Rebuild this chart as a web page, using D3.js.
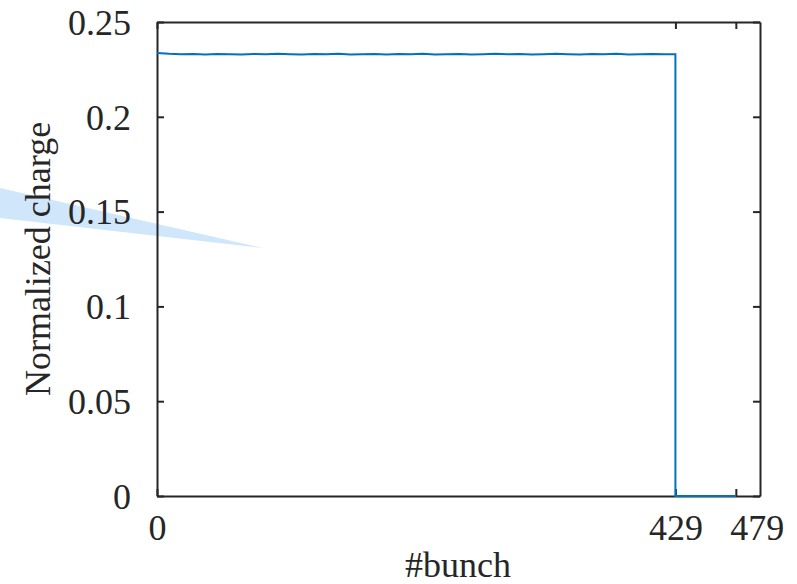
<!DOCTYPE html>
<html>
<head>
<meta charset="utf-8">
<script src="https://cdn.jsdelivr.net/npm/d3@7"></script>
<style>
  html, body { margin: 0; padding: 0; background: #fff; }
  svg { display: block; }
  text { font-family: "Liberation Serif", "Times New Roman", serif; fill: #262626; }
</style>
</head>
<body>
<svg id="chart" width="797" height="584"></svg>
<script>
// ---- data ----
const bunchIndex = [0,10,20,30,40,50,60,70,80,90,100,110,120,130,140,150,160,170,180,190,200,
  210,220,230,240,250,260,270,280,290,300,310,320,330,340,350,360,370,380,390,400,410,420,429];
const chargeValues = [0.2336,0.2332,0.2330,0.2331,0.2329,0.2331,0.2330,0.2328,0.2331,0.2330,0.2332,
  0.2330,0.2329,0.2331,0.2330,0.2332,0.2329,0.2330,0.2331,0.2329,0.2331,
  0.2330,0.2333,0.2329,0.2330,0.2331,0.2328,0.2330,0.2332,0.2330,0.2331,
  0.2329,0.2330,0.2332,0.2330,0.2329,0.2331,0.2330,0.2332,0.2329,0.2330,0.2331,0.2330,0.2330];
const emptyBunches = [429, 479];
const emptyValues = [0, 0];
const xTicks = [0, 429, 479];
const yTicks = [0, 0.05, 0.1, 0.15, 0.2, 0.25];
const xLabel = "#bunch";
const yLabel = "Normalized charge";

const svg = d3.select("#chart");
const x = d3.scaleLinear().domain([0, 499]).range([157, 760]);
const y = d3.scaleLinear().domain([0, 0.25]).range([496, 22]);
const axisColor = "#262626";
const lineColor = "#0072BD";

// decorative light-blue wedge (behind everything)
svg.append("polygon")
  .attr("points", "0,188 263,248 0,218")
  .attr("fill", "#d0e6fb");

// axes with inward ticks
const tl = 7;
const gB = svg.append("g").attr("transform", `translate(0,${y(0)})`)
  .call(d3.axisBottom(x).tickValues(xTicks).tickSizeInner(-tl).tickSizeOuter(0).tickPadding(18).tickFormat(d3.format("d")));
const gT = svg.append("g").attr("transform", `translate(0,${y(0.25)})`)
  .call(d3.axisTop(x).tickValues(xTicks).tickSizeInner(-tl).tickSizeOuter(0).tickFormat(""));
const gL = svg.append("g").attr("transform", `translate(${x(0)},0)`)
  .call(d3.axisLeft(y).tickValues(yTicks).tickSizeInner(-tl).tickSizeOuter(0).tickPadding(26).tickFormat(d => d === 0 ? "0" : String(+d.toFixed(2))));
const gR = svg.append("g").attr("transform", `translate(${x(499)},0)`)
  .call(d3.axisRight(y).tickValues(yTicks).tickSizeInner(-tl).tickSizeOuter(0).tickFormat(""));

[gB, gT, gL, gR].forEach(g => {
  g.select(".domain").attr("stroke", axisColor).attr("stroke-width", 2);
  g.selectAll(".tick line").attr("stroke", axisColor).attr("stroke-width", 2);
  g.selectAll(".tick text").attr("font-family", "Liberation Serif, serif").attr("font-size", 36).attr("fill", axisColor);
});
gB.selectAll(".tick text").attr("dy", "0.71em")
  .attr("dx", d => d === 479 ? 21 : 0);
gL.selectAll(".tick text").attr("dy", "0.34em");

// data line on top of axes
const pts = bunchIndex.map((b, i) => [b, chargeValues[i]])
  .concat(emptyBunches.map((b, i) => [b, emptyValues[i]]));

svg.append("path")
  .datum(pts)
  .attr("fill", "none")
  .attr("stroke", lineColor)
  .attr("stroke-width", 2)
  .attr("d", d3.line().x(d => x(d[0])).y(d => y(d[1])));

svg.append("text")
  .attr("x", 458).attr("y", 577)
  .attr("text-anchor", "middle")
  .attr("font-size", 36)
  .text(xLabel);

svg.append("text")
  .attr("transform", "translate(50,259) rotate(-90)")
  .attr("text-anchor", "middle")
  .attr("font-size", 36)
  .text(yLabel);
</script>
</body>
</html>
